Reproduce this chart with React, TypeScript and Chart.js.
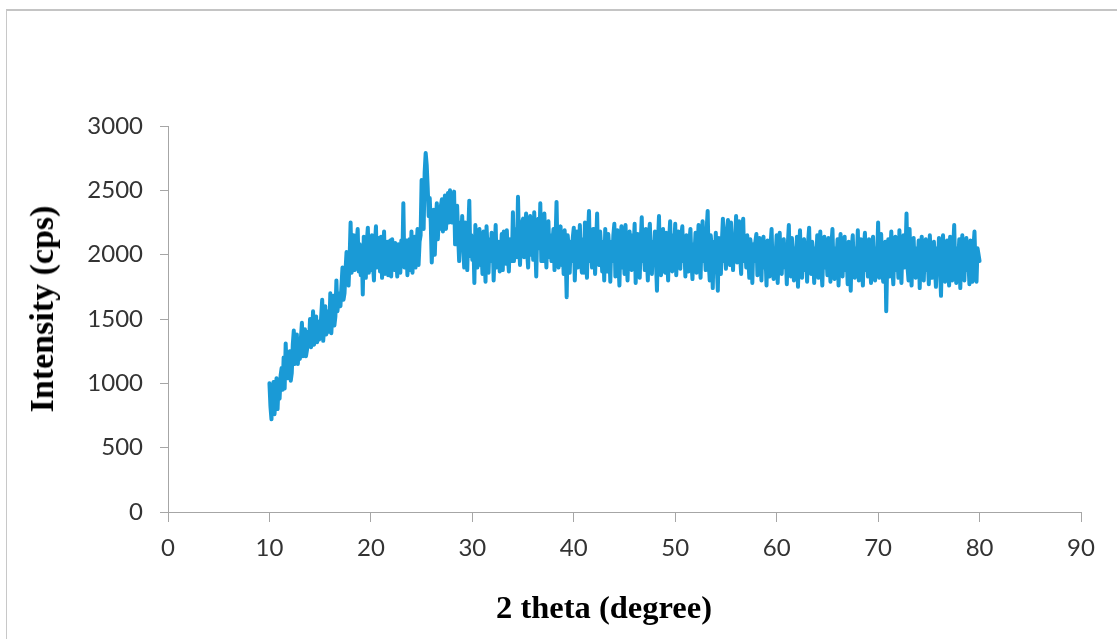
import React, { useEffect, useRef } from "react";
import { Chart, registerables } from "chart.js";

Chart.register(...registerables);

// 2θ grid of the scan (degrees)
const START_ANGLE = 10;
const STEP_ANGLE = 0.1;

// Intensity (cps), one row per degree (x.0 … x.9)
const intensity: number[] = [
  1000, 820, 720, 950, 1010, 760, 890, 1040, 800, 1000, // 10
  880, 1060, 1120, 950, 1200, 960, 1310, 1100, 1040, 1180, // 11
  1250, 1020, 1080, 1300, 1410, 1150, 1250, 1380, 1150, 1330, // 12
  1190, 1350, 1470, 1210, 1300, 1420, 1210, 1260, 1400, 1290, // 13
  1500, 1280, 1380, 1560, 1300, 1420, 1520, 1320, 1480, 1340, // 14
  1360, 1520, 1650, 1330, 1450, 1600, 1380, 1420, 1560, 1400, // 15
  1700, 1390, 1550, 1680, 1450, 1520, 1800, 1560, 1640, 1700, // 16
  1600, 1760, 1900, 1650, 1700, 1880, 2020, 1780, 1760, 1960, // 17
  2250, 1860, 2050, 2150, 1880, 1900, 2100, 2200, 1870, 2080, // 18
  1840, 2050, 1690, 2140, 1920, 1820, 2100, 2210, 1860, 1990, // 19
  1880, 2150, 1940, 1800, 2080, 2220, 1900, 1990, 2130, 1870, // 20
  2140, 1820, 2010, 2180, 1850, 1960, 2100, 1840, 2050, 2110, // 21
  1830, 2120, 1960, 1880, 2090, 1990, 1830, 2080, 2000, 1860, // 22
  2110, 1950, 2400, 1900, 2050, 2110, 1840, 1980, 2120, 1880, // 23
  2180, 1860, 2050, 2140, 1900, 2060, 2200, 1920, 2100, 2150, // 24
  2580, 2350, 2200, 2640, 2790, 2700, 2520, 2300, 2440, 2250, // 25
  1940, 2150, 2350, 2000, 2240, 2400, 2120, 2300, 2200, 2380, // 26
  2430, 2180, 2350, 2460, 2200, 2320, 2480, 2250, 2500, 2280, // 27
  2250, 2420, 2490, 2080, 2300, 2380, 2150, 1950, 2250, 2100, // 28
  2300, 2050, 1900, 2250, 2100, 1880, 2180, 2420, 1990, 2150, // 29
  1960, 2120, 1780, 2230, 2000, 1900, 2150, 2200, 1920, 2050, // 30
  1850, 2180, 2010, 1790, 2220, 2050, 1860, 2120, 1950, 2170, // 31
  2150, 1800, 2020, 2230, 1900, 2080, 2100, 1870, 2000, 2160, // 32
  1880, 2180, 2040, 1930, 2190, 1990, 1870, 2120, 2050, 1950, // 33
  2330, 1950, 2120, 2200, 1980, 2450, 2100, 1920, 2180, 2250, // 34
  2280, 1980, 2150, 2320, 2020, 1900, 2200, 2300, 2000, 2150, // 35
  1960, 2330, 2100, 1830, 2200, 2280, 2050, 2400, 1950, 2250, // 36
  1950, 2320, 2100, 1900, 2200, 2260, 1980, 2150, 1950, 2100, // 37
  2200, 1880, 2100, 2410, 2000, 1900, 2180, 2220, 1920, 2100, // 38
  1850, 2190, 2000, 1670, 2150, 2050, 1860, 2100, 1950, 2130, // 39
  2210, 1800, 2050, 2180, 1900, 2010, 2230, 1950, 1860, 2120, // 40
  1860, 2250, 2000, 1820, 2150, 2340, 1950, 2060, 1900, 2200, // 41
  2200, 1850, 2080, 2320, 1950, 1920, 2180, 2050, 1870, 2100, // 42
  1800, 2200, 2000, 1870, 2160, 2050, 1790, 2100, 1950, 2150, // 43
  2240, 1830, 2050, 2190, 1950, 1760, 2120, 2220, 1900, 2050, // 44
  1850, 2230, 2000, 1800, 2100, 2180, 1950, 1880, 2150, 2050, // 45
  2240, 1780, 2000, 2160, 1900, 1820, 2100, 2290, 1950, 2050, // 46
  1880, 2200, 1990, 1800, 2150, 2240, 1950, 1850, 2100, 2020, // 47
  2180, 1950, 1720, 2100, 2300, 1900, 1840, 2150, 2200, 1950, // 48
  1860, 2170, 2000, 1800, 2120, 2260, 1950, 1870, 2150, 2050, // 49
  2240, 1840, 2050, 2180, 1950, 1890, 2150, 2220, 1950, 2050, // 50
  1830, 2150, 1980, 1870, 2100, 2200, 1950, 1810, 2080, 2000, // 51
  2170, 1860, 2050, 2230, 1950, 1820, 2150, 2260, 1950, 2050, // 52
  1880, 2200, 2340, 1950, 1800, 2150, 2050, 1740, 2100, 1950, // 53
  2170, 1900, 1720, 2130, 2000, 1850, 2100, 2280, 1950, 2050, // 54
  1890, 2200, 2270, 1950, 1920, 2250, 2050, 1880, 2150, 2100, // 55
  2300, 1940, 2100, 2260, 1980, 1850, 2200, 2280, 1950, 2100, // 56
  1900, 2150, 2000, 1820, 2120, 2050, 1780, 2080, 1950, 2100, // 57
  2160, 1840, 2000, 2130, 1950, 1800, 2100, 2140, 1900, 2000, // 58
  1760, 2110, 1950, 1830, 2080, 2200, 1900, 1810, 2050, 2000, // 59
  2150, 1780, 2000, 2170, 1900, 1850, 2100, 2120, 1900, 2000, // 60
  1770, 2080, 2230, 1900, 1830, 2130, 2000, 1800, 2050, 1950, // 61
  2140, 1750, 2000, 2190, 1900, 1820, 2100, 2120, 1880, 2000, // 62
  1790, 2100, 2210, 1900, 1850, 2100, 2000, 1780, 2050, 1950, // 63
  2150, 1820, 2000, 2180, 1900, 1760, 2050, 2140, 1900, 2000, // 64
  1840, 2130, 1980, 1790, 2080, 2200, 1900, 1810, 2050, 1950, // 65
  2120, 1760, 2000, 2160, 1900, 1830, 2080, 2140, 1880, 2000, // 66
  1770, 2100, 1950, 1720, 2050, 2150, 1900, 1820, 2050, 1950, // 67
  2190, 1800, 2000, 2120, 1900, 1760, 2050, 2170, 1880, 2000, // 68
  1830, 2120, 1950, 1780, 2080, 2140, 1900, 1800, 2050, 1950, // 69
  2250, 1820, 2000, 2160, 1900, 1790, 2050, 2100, 1560, 1950, // 70
  2120, 1830, 2000, 2180, 1900, 1770, 2050, 2140, 1880, 2000, // 71
  1820, 2190, 1950, 1780, 2100, 2150, 1900, 2000, 2320, 1900, // 72
  1800, 2200, 1950, 1760, 2050, 2130, 1900, 1820, 2050, 1950, // 73
  2110, 1740, 2000, 2140, 1900, 1800, 2050, 2120, 1880, 1950, // 74
  1770, 2150, 1950, 1820, 2050, 2100, 1900, 1750, 2050, 1950, // 75
  2130, 1880, 1680, 2050, 2150, 1900, 1790, 2050, 2110, 1900, // 76
  1760, 2140, 1950, 1800, 2050, 2230, 1900, 1780, 2050, 1950, // 77
  2120, 1740, 2000, 2150, 1900, 1800, 2050, 2130, 1880, 1950, // 78
  1770, 2110, 1950, 1790, 2050, 2180, 1900, 1790, 2050, 2000, // 79
  1950, // 80
];

const twoTheta: number[] = intensity.map((_, i) =>
  Number((START_ANGLE + i * STEP_ANGLE).toFixed(1))
);

const X_MIN = 0;
const X_MAX = 90;
const X_STEP = 10;
const Y_MIN = 0;
const Y_MAX = 3000;
const Y_STEP = 500;

const X_TITLE = "2 theta (degree)";
const Y_TITLE = "Intensity (cps)";

const LINE_COLOR = "#1A9AD6";
const AXIS_COLOR = "#a6a6a6";
const TICK_TEXT = "#333333";
const TICK_FONT = { family: "Lato, 'Open Sans', sans-serif", size: 24 };

export default function App() {
  const canvasRef = useRef<HTMLCanvasElement | null>(null);

  useEffect(() => {
    const canvas = canvasRef.current;
    if (!canvas) return;
    const chart = new Chart(canvas, {
      type: "line",
      data: {
        datasets: [
          {
            data: twoTheta.map((x, i) => ({ x, y: intensity[i] })),
            borderColor: LINE_COLOR,
            backgroundColor: LINE_COLOR,
            borderWidth: 4,
            pointRadius: 0,
            tension: 0,
            fill: false,
            borderJoinStyle: "round",
            borderCapStyle: "round",
          },
        ],
      },
      options: {
        animation: false,
        responsive: false,
        devicePixelRatio: 1,
        events: [],
        layout: { padding: { left: 0, right: 36, top: 126, bottom: 67 } },
        plugins: { legend: { display: false }, tooltip: { enabled: false } },
        scales: {
          x: {
            type: "linear",
            min: X_MIN,
            max: X_MAX,
            afterFit: (s: any) => {
              s.height = 60;
            },
            ticks: {
              stepSize: X_STEP,
              color: TICK_TEXT,
              font: TICK_FONT,
              padding: 12,
              maxRotation: 0,
              callback: (v: any) => String(v),
            },
            grid: {
              drawOnChartArea: false,
              drawTicks: true,
              tickLength: 10,
              tickColor: AXIS_COLOR,
              tickWidth: 1,
            },
            border: { color: AXIS_COLOR, width: 1 },
          },
          y: {
            type: "linear",
            min: Y_MIN,
            max: Y_MAX,
            afterFit: (s: any) => {
              s.width = 168;
            },
            ticks: {
              stepSize: Y_STEP,
              color: TICK_TEXT,
              font: TICK_FONT,
              padding: 17,
              callback: (v: any) => String(v),
            },
            grid: {
              drawOnChartArea: false,
              drawTicks: true,
              tickLength: 8,
              tickColor: AXIS_COLOR,
              tickWidth: 1,
            },
            border: { color: AXIS_COLOR, width: 1 },
          },
        },
      },
    });
    return () => chart.destroy();
  }, []);

  return (
    <div
      style={{
        position: "fixed",
        left: 0,
        top: 0,
        width: 1117,
        height: 639,
        background: "#ffffff",
        overflow: "hidden",
      }}
    >
      <div
        style={{
          position: "absolute",
          left: 6,
          top: 9,
          width: 1200,
          height: 700,
          borderTop: "2px solid #c4c4c4",
          borderLeft: "1px solid #c8c8c8",
        }}
      />
      <canvas
        ref={canvasRef}
        width={1117}
        height={639}
        style={{ position: "absolute", left: 0, top: 0, width: 1117, height: 639 }}
      />
      <div
        style={{
          position: "absolute",
          left: 604,
          top: 591,
          transform: "translateX(-50%)",
          whiteSpace: "nowrap",
          fontFamily: "'Liberation Serif', 'Times New Roman', serif",
          fontWeight: "bold",
          fontSize: 32.5,
          lineHeight: "32px",
          color: "#000",
        }}
      >
        {X_TITLE}
      </div>
      <div
        style={{
          position: "absolute",
          left: 42,
          top: 309,
          transform: "translate(-50%, -50%) rotate(-90deg)",
          whiteSpace: "nowrap",
          fontFamily: "'Liberation Serif', 'Times New Roman', serif",
          fontWeight: "bold",
          fontSize: 34,
          lineHeight: "32px",
          color: "#000",
        }}
      >
        {Y_TITLE}
      </div>
    </div>
  );
}
